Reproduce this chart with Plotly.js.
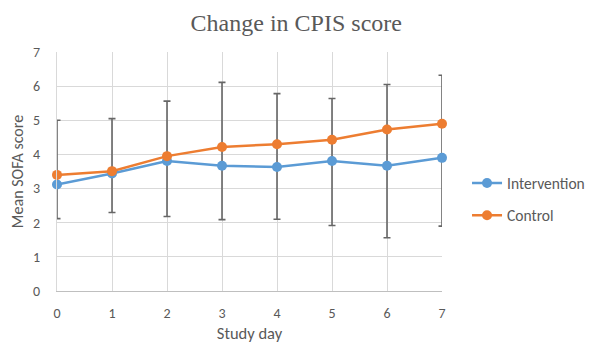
<!DOCTYPE html>
<html>
<head>
<meta charset="utf-8">
<script src="https://cdn.plot.ly/plotly-3.0.1.min.js"></script>
<style>html,body{margin:0;padding:0;background:#fff;}#chart{width:589px;height:347px;}</style>
</head>
<body>
<div id="chart"></div>
<script>
var days = [0, 1, 2, 3, 4, 5, 6, 7];
var intervention = [3.12, 3.44, 3.81, 3.67, 3.63, 3.81, 3.67, 3.90];
var control = [3.40, 3.51, 3.95, 4.22, 4.30, 4.43, 4.73, 4.90];
var errLow = [2.12, 2.30, 2.18, 2.09, 2.10, 1.92, 1.56, 1.90];
var errHigh = [5.00, 5.05, 5.56, 6.11, 5.78, 5.64, 6.05, 6.32];
var tickLabels = ['0', '1', '2', '3', '4', '5', '6', '7'];

var errPlus = errHigh.map(function (v, i) { return v - intervention[i]; });
var errMinus = errLow.map(function (v, i) { return intervention[i] - v; });

var font = 'Carlito, Calibri, "Liberation Sans", sans-serif';
var grey = '#595959';

var traces = [
  {
    x: days, y: intervention, name: 'Intervention', type: 'scatter', mode: 'lines+markers',
    legendgroup: 'a', cliponaxis: false,
    line: {color: '#5b9bd5', width: 2.5},
    marker: {color: '#5b9bd5', size: 10},
    error_y: {type: 'data', symmetric: false, array: errPlus, arrayminus: errMinus,
      color: '#666666', thickness: 1.6, width: 3.5}
  },
  {
    x: days, y: control, name: 'Control', type: 'scatter', mode: 'lines+markers',
    legendgroup: 'b', cliponaxis: false,
    line: {color: '#ed7d31', width: 2.5},
    marker: {color: '#ed7d31', size: 10}
  }
];

var layout = {
  width: 589, height: 347,
  margin: {l: 57, r: 147, t: 52, b: 56, autoexpand: false},
  paper_bgcolor: '#fff', plot_bgcolor: '#fff',
  font: {family: font, size: 14, color: grey},
  title: {text: 'Change in CPIS score', font: {family: '"Liberation Serif", "Times New Roman", serif', size: 24, color: grey},
    x: 0.503, xref: 'container', xanchor: 'center', y: 0.935, yref: 'container', yanchor: 'middle'},
  xaxis: {
    range: [0, 7], tickvals: days, ticktext: tickLabels,
    showgrid: true, gridcolor: '#d9d9d9', gridwidth: 1, zeroline: false,
    showline: true, linecolor: '#bfbfbf', linewidth: 1.3,
    ticks: '', ticklabelstandoff: 9, tickfont: {size: 14},
    title: {text: 'Study day', font: {size: 16.5, color: grey}, standoff: 6}
  },
  yaxis: {
    range: [0, 7], dtick: 1, tick0: 0,
    showgrid: true, gridcolor: '#d9d9d9', gridwidth: 1, zeroline: false,
    showline: true, linecolor: '#d9d9d9', linewidth: 1,
    ticks: '', ticklabelstandoff: 13, tickfont: {size: 14},
    title: {text: 'Mean SOFA score', font: {size: 16, color: grey}, standoff: 5}
  },
  legend: {x: 1.065, xanchor: 'left', y: 0.383, yanchor: 'middle',
    traceorder: 'grouped', tracegroupgap: 9, font: {size: 15.5, color: grey},
    bgcolor: 'rgba(0,0,0,0)'},
  showlegend: true
};

Plotly.newPlot('chart', traces, layout, {displayModeBar: false, staticPlot: true});
</script>
</body>
</html>
